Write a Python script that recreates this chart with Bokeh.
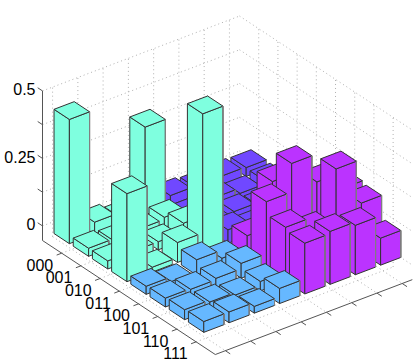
from bokeh.plotting import figure
from bokeh.models import Range1d, ColumnDataSource
from bokeh.embed import file_html
from bokeh.resources import INLINE
from bokeh.core.properties import value

row_labels = ["000", "001", "010", "011", "100", "101", "110", "111"]
z_ticks = [0, 0.125, 0.25, 0.375, 0.5]
z_labels = ["0", "", "0.25", "", "0.5"]
row_000 = [.46, .044, .027, .325, .036, .03, .036, .033]
row_001 = [.03, .022, .03, .038, .015, .04, .02, .03]
row_010 = [.03, .03, .03, .063, .03, .035, .02, .03]
row_011 = [.326, .018, .074, .515, .05, .03, .03, .03]
row_100 = [.03, .012, .057, .027, .075, .24, .15, .15]
row_101 = [.033, .03, .035, .055, .248, .354, .25, .19]
row_110 = [.037, .03, .02, .035, .2, .157, .345, .183]
row_111 = [.04, .04, .025, .056, .188, .196, .183, .1]
rows = [row_000, row_001, row_010, row_011, row_100, row_101, row_110, row_111]

CYAN, BLUE, PURPLE, MAGENTA = "#7FFFDF", "#66B8FF", "#7048FF", "#BB33FF"
EDGE, SIDE, AXIS, GRID = "#333333", "#808080", "#555555", "#b0b0b0"

XMIN, XMAX, YMIN, YMAX, ZMIN, ZMAX = 0.6, 8.4, 0.0, 9.0, -0.054, 0.5
HALF = 0.4


def proj(x, y, z):
    """3D data point to page pixels (axonometric view)."""
    dx = x - XMIN
    dy = y - YMIN
    return (42 + dx * 25.26 + dy * 19.2,
            240 - dx * 9.6 + dy * 12.67 - (z - ZMIN) * 270)


def poly(points):
    pts = [proj(*q) for q in points]
    return [a for a, _ in pts], [b for _, b in pts]


p = figure(width=415, height=363, output_backend="svg", toolbar_location=None,
           x_range=Range1d(0, 415), y_range=Range1d(363, 0),
           min_border=0, outline_line_color=None)
p.axis.visible = False
p.grid.visible = False
p.background_fill_color = "white"

# dotted walls and floor
gx, gy = [], []


def seg(a, b, store_x=gx, store_y=gy):
    xs, ys = poly([a, b])
    store_x.append(xs)
    store_y.append(ys)


for i in range(1, 9):
    seg((i, YMIN, ZMIN), (i, YMIN, ZMAX))
    seg((XMAX, i, ZMIN), (XMAX, i, ZMAX))
    seg((i, YMIN, ZMIN), (i, YMAX, ZMIN))
    seg((XMIN, i, ZMIN), (XMAX, i, ZMIN))
for z in z_ticks:
    seg((XMIN, YMIN, z), (XMAX, YMIN, z))
    seg((XMAX, YMIN, z), (XMAX, YMAX, z))
p.multi_line(gx, gy, line_color=GRID, line_width=1, line_dash="1 3")

# bars, painted from back to front
fx, fy, fc, lc = [], [], [], []


def face(points, fill, line):
    xs, ys = poly(points)
    fx.append(xs)
    fy.append(ys)
    fc.append(fill)
    lc.append(line)


for col in range(8, 0, -1):
    for row in range(1, 9):
        h = rows[row - 1][col - 1]
        if col <= 4:
            color = CYAN if row <= 4 else BLUE
        else:
            color = PURPLE if row <= 4 else MAGENTA
        x0, x1, y0, y1 = col - HALF, col + HALF, row - HALF, row + HALF
        face([(x0, y0, 0), (x0, y1, 0), (x0, y1, h), (x0, y0, h)], color, EDGE)
        face([(x0, y1, 0), (x1, y1, 0), (x1, y1, h), (x0, y1, h)], color, EDGE)
        face([(x0, y0, h), (x1, y0, h), (x1, y1, h), (x0, y1, h)], color, EDGE)
        xs, ys = poly([(x1, y1, 0), (x1, y1, h)])
        fx.append(xs + xs[::-1])
        fy.append(ys + ys[::-1])
        fc.append(SIDE)
        lc.append(SIDE)
p.patches("x", "y", fill_color="c", line_color="l", line_width=1,
          source=ColumnDataSource(dict(x=fx, y=fy, c=fc, l=lc)))

# axes and ticks
ax, ay = [], []
seg((XMIN, YMIN, ZMIN), (XMIN, YMAX, ZMIN), ax, ay)
seg((XMIN, YMAX, ZMIN), (XMAX, YMAX, ZMIN), ax, ay)
seg((XMIN, YMIN, ZMIN), (XMIN, YMIN, ZMAX), ax, ay)
for i in range(1, 9):
    seg((XMIN, i, ZMIN), (XMIN - 0.2, i, ZMIN), ax, ay)
    seg((i, YMAX, ZMIN), (i, YMAX + 0.25, ZMIN), ax, ay)
for z in z_ticks:
    seg((XMIN, YMIN, z), (XMIN, YMIN - 0.25, z), ax, ay)
p.multi_line(ax, ay, line_color=AXIS, line_width=1)

# tick labels
rx = [proj(XMIN, i + 1, ZMIN)[0] - 8.5 for i in range(8)]
ry = [proj(XMIN, i + 1, ZMIN)[1] + 11.5 for i in range(8)]
p.text(rx, ry, text=row_labels, text_font=value("Liberation Sans"), text_font_size="16px",
       text_align="right", text_baseline="middle", text_color="black")
zx = [proj(XMIN, YMIN, z)[0] - 7 for z in z_ticks]
zy = [proj(XMIN, YMIN, z)[1] - 1.5 for z in z_ticks]
p.text(zx, zy, text=z_labels, text_font=value("Liberation Sans"), text_font_size="16px",
       text_align="right", text_baseline="middle", text_color="black")

open("out.html", "w").write(file_html(p, INLINE))
